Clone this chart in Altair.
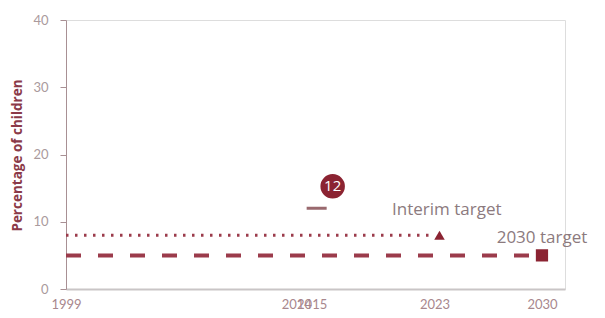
import altair as alt
import pandas as pd

# Data
interim_years = [1999, 2023]
interim_values = [8, 8]
target_years = [1999, 2030]
target_values = [5, 5]
obs_year = [2015]
obs_value = [12]
tick_years = [1999, 2014, 2015, 2023, 2030]
labels = ["Interim target", "2030 target"]
label_years = [2023.8, 2030]
label_values = [11.7, 7.6]

DARK = "#8b2332"
LINE = "#9b3b4b"
TXT = "#8c7a7e"

xs = alt.Scale(domain=[1999, 2031.5], nice=False, zero=False)
ys = alt.Scale(domain=[0, 40], nice=False)

df_int = pd.DataFrame({"year": interim_years, "v": interim_values})
df_tgt = pd.DataFrame({"year": target_years, "v": target_values})
df_obs = pd.DataFrame({"year": obs_year, "v": obs_value})
df_lab = pd.DataFrame({"year": label_years, "v": label_values, "t": labels})

X = alt.X("year:Q", scale=xs,
          axis=alt.Axis(values=tick_years, format="d", title=None, ticks=False,
                        labelOverlap=False, labelFontSize=13, labelColor="#a8878d",
                        labelFont="Lato", labelPadding=9, domainColor="#c9c5c6",
                        domainWidth=2, grid=False, labelFlush=False))
Y = alt.Y("v:Q", scale=ys,
          axis=alt.Axis(values=[0, 10, 20, 30, 40], title="Percentage of children",
                        titleColor="#8b3a48", titleFontSize=13.5, titleFontWeight="bold",
                        titleFont="Open Sans", titlePadding=8, titleY=135,
                        labelFontSize=13, labelColor="#aa9a9d", labelFont="Lato",
                        tickSize=6, tickColor="#a89094", domainColor="#a89094",
                        labelPadding=12, grid=False))

dotted = alt.Chart(df_int).mark_line(color=LINE, strokeWidth=3, strokeDash=[2.5, 6.5]).encode(x=X, y=Y)
dashed = alt.Chart(df_tgt).mark_line(color=LINE, strokeWidth=4, strokeDash=[15, 17]).encode(x=X, y=Y)
tri = alt.Chart(df_int.iloc[[1]]).mark_point(shape="triangle-up", filled=True, color=DARK,
                                             size=110, opacity=1, xOffset=5).encode(x=X, y=Y)
sq = alt.Chart(df_tgt.iloc[[1]]).mark_point(shape="square", filled=True, color=DARK,
                                            size=150, opacity=1).encode(x=X, y=Y)
dash12 = alt.Chart(df_obs).mark_tick(orient="horizontal", color="#6e2a30", size=20,
                                     thickness=3, xOffset=5).encode(x=X, y=Y)
circ = alt.Chart(df_obs).mark_point(shape="circle", filled=True, color=DARK, size=600,
                                    opacity=1, xOffset=21, yOffset=-22).encode(x=X, y=Y)
num = alt.Chart(df_obs).mark_text(color="white", fontSize=15, font="Open Sans",
                                  xOffset=21, yOffset=-22).encode(x=X, y=Y, text=alt.Text("v:Q"))
txt = alt.Chart(df_lab).mark_text(color=TXT, fontSize=17, font="Open Sans").encode(x=X, y=Y, text="t:N")
edge = alt.Chart(df_obs).mark_rule(color="#e8c9ce", strokeWidth=1).encode(
    x=alt.value(537.5), y=alt.value(-20), y2=alt.value(300))

chart = alt.layer(dashed, dotted, dash12, tri, sq, circ, num, txt, edge).properties(
    width=499, height=269, padding={"left": 58, "top": 12, "right": 30, "bottom": 21},
    autosize=alt.AutoSizeParams(type="none")
).configure_view(stroke=None).configure(background="white")

chart.save("out.html", embed_options={"renderer": "svg", "actions": False})
